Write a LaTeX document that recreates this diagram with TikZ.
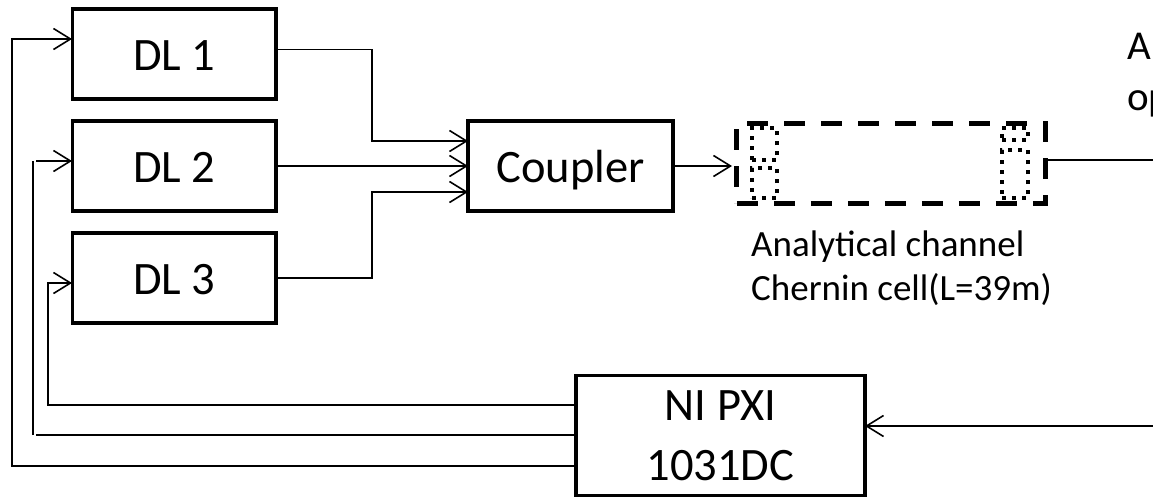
\documentclass[tikz,border=0pt]{standalone}
\usepackage{fontspec}
\setmainfont{Carlito}
\usetikzlibrary{arrows.meta}

\tikzset{
  block/.style={draw, line width=3.4pt, inner sep=0pt, font=\fontsize{46.5}{46.5}\selectfont, align=center},
  lowtext/.style={text height=32.5pt, text depth=0pt},
  wire/.style={line width=1.6pt},
  wirearrow/.style={wire, arrows={-Straight Barb[length=17pt, width=21pt, line width=1.6pt]}},
  cellnote/.style={inner sep=0pt, anchor=base west, font=\fontsize{37}{37}\selectfont},
  bigtext/.style={inner sep=0pt, anchor=base west, font=\fontsize{41}{41}\selectfont},
  celldash/.style={draw, line width=5pt, dash pattern=on 21pt off 16pt, inner sep=0pt},
  celldot/.style={draw, line width=4pt, dash pattern=on 4pt off 6pt, inner sep=0pt}
}

\begin{document}
\begin{tikzpicture}[x=1pt, y=-1pt]
\useasboundingbox (0,0) rectangle (1153,498);

\node[block, lowtext, minimum width=203.5pt, minimum height=90pt] (dl1) at (174.25,54) {DL 1};
\node[block, lowtext, minimum width=203.5pt, minimum height=90pt] (dl2) at (174.25,166) {DL 2};
\node[block, lowtext, minimum width=203.5pt, minimum height=90pt] (dl3) at (174.25,278) {DL 3};
\node[block, lowtext, minimum width=205pt, minimum height=90pt] (coupler) at (570.5,166) {Coupler};
\node[block, minimum width=289pt, minimum height=120pt] (nipxi) at (720.5,435.5) {NI PXI\\[13.7pt]1031DC};

% gas cell
\node[celldash, minimum width=308.5pt, minimum height=80pt] (cell) at (891,163.3) {};
\node[celldot, minimum width=25pt, minimum height=32pt] (mirrora1) at (764.5,144) {};
\node[celldot, minimum width=25pt, minimum height=30pt] (mirrora2) at (764.5,183) {};
\node[celldot, minimum width=26pt, minimum height=12pt] (mirrorb1) at (1015,134) {};
\node[celldot, minimum width=26pt, minimum height=48pt] (mirrorb2) at (1015,174) {};

\node[cellnote] (note1) at (751,256.7) {Analytical channel};
\node[cellnote] (note2) at (751,300) {Chernin cell(L=39m)};
\node[bigtext] (texta) at (1127,59) {A};
\node[bigtext] (textb) at (1127,110) {op};

\coordinate (in1) at (468,141);
\coordinate (in2) at (468,166);
\coordinate (in3) at (468,192);
\coordinate (out1) at (276,49.5);
\coordinate (out2) at (276,166);
\coordinate (out3) at (276,278);
\coordinate (celin) at (732,166);
\coordinate (celout) at (1047,160);
\coordinate (edgea) at (1153,160);
\coordinate (edgeb) at (1153,426);
\coordinate (pxiin) at (865,426);

\coordinate (ret1a) at (576,466);
\coordinate (ret1b) at (12,466);
\coordinate (ret1c) at (12,39);
\coordinate (dl1in) at (72,39);
\coordinate (ret2a) at (576,435);
\coordinate (ret2b) at (36,435);
\coordinate (ret2c) at (33,435);
\coordinate (ret2d) at (33,161);
\coordinate (ret2e) at (36,161);
\coordinate (dl2in) at (72,161);
\coordinate (ret3a) at (576,405);
\coordinate (ret3b) at (48,405);
\coordinate (ret3c) at (48,283);
\coordinate (dl3in) at (72,283);

\draw[wirearrow] (out1) -- (372,49.5) -- (372,141) -- (in1);
\draw[wirearrow] (out2) -- (in2);
\draw[wirearrow] (out3) -- (372,278) -- (372,192) -- (in3);
\draw[wirearrow] (coupler.east) -- (celin);
\draw[wire] (celout) -- (edgea);
\draw[wirearrow] (edgeb) -- (pxiin);

\draw[wirearrow] (ret1a) -- (ret1b) -- (ret1c) -- (dl1in);
\draw[wire] (ret2a) -- (ret2b);
\draw[wire] (ret2c) -- (ret2d);
\draw[wirearrow] (ret2e) -- (dl2in);
\draw[wirearrow] (ret3a) -- (ret3b) -- (ret3c) -- (dl3in);

\end{tikzpicture}
\end{document}
